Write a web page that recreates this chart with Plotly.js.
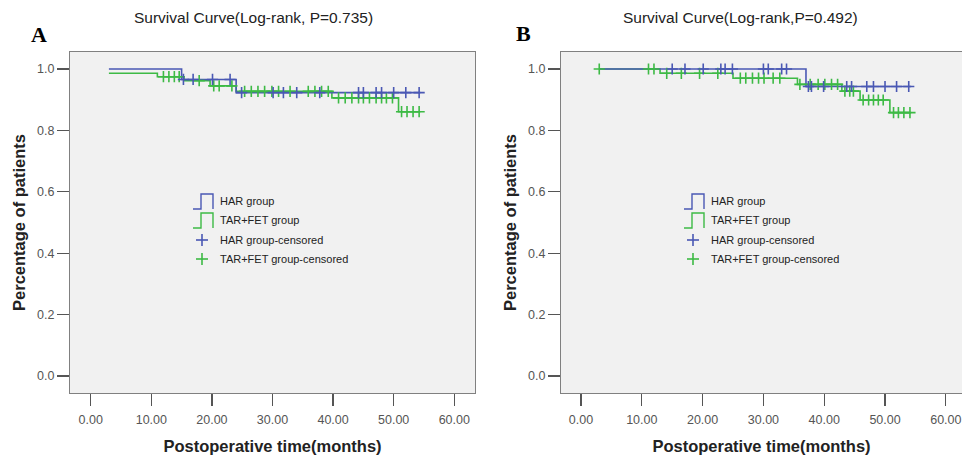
<!DOCTYPE html>
<html>
<head>
<meta charset="utf-8">
<script src="https://cdn.plot.ly/plotly-3.0.1.min.js"></script>
<style>html,body{margin:0;padding:0;background:#fff;}#chart{width:962px;height:455px;}</style>
</head>
<body>
<div id="chart"></div>
<script>
// ---- Data ----
// Panel A: step curves (time in months, survival proportion)
const A_HAR_t = [3, 15, 24, 54.4];
const A_HAR_s = [1.0, 0.966, 0.923, 0.923];
const A_TAR_t = [3, 11, 15.4, 19.7, 24, 39.8, 50.8, 54.4];
const A_TAR_s = [0.986, 0.975, 0.962, 0.945, 0.927, 0.906, 0.861, 0.861];
const A_HAR_cens = [15.3, 16.9, 20.1, 23.0, 24.9, 30.1, 31.8, 34.0, 37.8, 44.2, 45.0, 47.1, 48.0, 50.0, 52.0, 54.2];
const A_TAR_cens = [12.0, 12.9, 13.8, 14.6, 17.9, 20.3, 21.2, 23.3, 25.4, 26.5, 27.6, 28.7, 29.9, 31.0, 32.9, 35.9, 37.0, 38.1, 39.2,
                    40.9, 42.0, 43.1, 44.2, 45.0, 46.0, 47.1, 48.0, 48.8, 49.8, 51.3, 52.2, 53.2, 54.2];

// Panel B
const B_HAR_t = [3, 37, 54.3];
const B_HAR_s = [1.0, 0.943, 0.943];
const B_TAR_t = [3, 13, 25, 35.6, 42.9, 45.9, 50.8, 54.3];
const B_TAR_s = [1.0, 0.986, 0.97, 0.95, 0.928, 0.899, 0.858, 0.858];
const B_HAR_cens = [15.0, 17.1, 20.1, 23.0, 23.7, 24.9, 30.0, 30.8, 33.0, 33.8, 37.4, 37.9, 39.9, 43.7, 44.5, 47.0, 48.1, 50.0, 51.9, 53.9];
const B_TAR_cens = [3.0, 11.1, 12.0, 14.1, 16.5, 19.5, 22.5, 26.2, 27.1, 28.2, 29.2, 30.1, 31.6, 32.7, 36.0, 37.7, 39.0, 40.1, 41.2, 42.2,
                    43.4, 44.2, 44.8, 46.4, 47.3, 48.1, 48.9, 49.7, 51.4, 52.2, 53.1, 54.1];

const titlesTop = ["Survival Curve(Log-rank, P=0.735)", "Survival Curve(Log-rank,P=0.492)"];
const panelLetters = ["A", "B"];
const legendLabels = ["HAR group", "TAR+FET group", "HAR group-censored", "TAR+FET group-censored"];
const xTitle = "Postoperative time(months)";
const yTitle = "Percentage of patients";
const xTicks = [0, 10, 20, 30, 40, 50, 60];
const yTicks = [0, 0.2, 0.4, 0.6, 0.8, 1.0];

// ---- Styling ----
const BLUE = "#4a58b4";
const GREEN = "#3dba45";
const W = 962, H = 455;
const SANS = "Liberation Sans, Arial, sans-serif";

// look up step value at time t
function stepAt(ts, ss, t) {
  let v = ss[0];
  for (let i = 0; i < ts.length; i++) { if (t >= ts[i]) v = ss[i]; }
  return v;
}

function lineTrace(t, s, color, xa, ya) {
  return {x: t, y: s, type: "scatter", mode: "lines", line: {shape: "hv", color: color, width: 1.6},
          xaxis: xa, yaxis: ya, showlegend: false, hoverinfo: "skip"};
}
function censTrace(c, ts, ss, color, xa, ya) {
  return {x: c, y: c.map(t => stepAt(ts, ss, t)), type: "scatter", mode: "markers",
          marker: {symbol: "cross-thin", size: 8, line: {color: color, width: 1.6}, color: color},
          xaxis: xa, yaxis: ya, showlegend: false, hoverinfo: "skip"};
}

const data = [
  lineTrace(A_TAR_t, A_TAR_s, GREEN, "x", "y"),
  lineTrace(A_HAR_t, A_HAR_s, BLUE, "x", "y"),
  censTrace(A_TAR_cens, A_TAR_t, A_TAR_s, GREEN, "x", "y"),
  censTrace(A_HAR_cens, A_HAR_t, A_HAR_s, BLUE, "x", "y"),
  lineTrace(B_TAR_t, B_TAR_s, GREEN, "x2", "y2"),
  lineTrace(B_HAR_t, B_HAR_s, BLUE, "x2", "y2"),
  censTrace(B_TAR_cens, B_TAR_t, B_TAR_s, GREEN, "x2", "y2"),
  censTrace(B_HAR_cens, B_HAR_t, B_HAR_s, BLUE, "x2", "y2")
];

const tickFont = {family: SANS, size: 12.5, color: "#555"};
const axTitleFont = {family: SANS, size: 16.5, color: "#222", weight: "bold"};

function xAxis(domain, range, anchor, mirror) {
  return {domain: domain, range: range, anchor: anchor, tickmode: "array", tickvals: xTicks,
          ticktext: xTicks.map(v => v.toFixed(2)), ticks: "outside", ticklen: 12, tickwidth: 1.2, tickcolor: "#555",
          ticklabelstandoff: 3,
          showline: true, linecolor: "#808080", linewidth: 1, mirror: mirror, showgrid: false, zeroline: false,
          tickfont: tickFont, title: {text: xTitle, font: axTitleFont, standoff: 14}};
}
function yAxis(domain, anchor, mirror) {
  return {domain: domain, range: [-0.0554, 1.0554], anchor: anchor, tickmode: "array", tickvals: yTicks,
          ticktext: yTicks.map(v => v.toFixed(1)), ticks: "outside", ticklen: 12, tickwidth: 1.2, tickcolor: "#555",
          showline: true, linecolor: "#808080", linewidth: 1, mirror: mirror, showgrid: false, zeroline: false,
          tickfont: tickFont, title: {text: yTitle, font: axTitleFont, standoff: 7}};
}

const yDom = [(H - 393) / H, (H - 52) / H];

const annotations = [
  {text: titlesTop[0], x: 253 / W, y: 1 - 18 / H, xref: "paper", yref: "paper", showarrow: false,
   font: {family: SANS, size: 15.5, color: "#222"}, xanchor: "center", yanchor: "middle"},
  {text: titlesTop[1], x: 740 / W, y: 1 - 18 / H, xref: "paper", yref: "paper", showarrow: false,
   font: {family: SANS, size: 15.5, color: "#222"}, xanchor: "center", yanchor: "middle"},
  {text: "<b>" + panelLetters[0] + "</b>", x: 39 / W, y: 1 - 35 / H, xref: "paper", yref: "paper", showarrow: false,
   font: {family: "Liberation Serif, Times New Roman, serif", size: 22, color: "#000"}, xanchor: "center", yanchor: "middle"},
  {text: "<b>" + panelLetters[1] + "</b>", x: 523 / W, y: 1 - 34 / H, xref: "paper", yref: "paper", showarrow: false,
   font: {family: "Liberation Serif, Times New Roman, serif", size: 22, color: "#000"}, xanchor: "center", yanchor: "middle"}
];

const shapes = [];
const legY = [201, 220, 240, 259];
[70, 561].forEach(boxLeft => {
  const ix = boxLeft + 123; // icon left
  const tx = boxLeft + 148; // text left
  legendLabels.forEach((lab, i) => {
    annotations.push({text: lab, x: tx / W, y: 1 - legY[i] / H, xref: "paper", yref: "paper", showarrow: false,
      xanchor: "left", yanchor: "middle", font: {family: SANS, size: 11, color: "#222"}});
  });
  // step icons
  [[0, BLUE], [1, GREEN]].forEach(([i, col]) => {
    const yb = legY[i] + 8, yt = legY[i] - 7;
    const p = (x, y) => (x / W).toFixed(5) + "," + (1 - y / H).toFixed(5);
    shapes.push({type: "path", xref: "paper", yref: "paper",
      path: "M" + p(ix, yb) + " L" + p(ix + 8, yb) + " L" + p(ix + 8, yt) + " L" + p(ix + 20, yt) + " L" + p(ix + 20, yb),
      line: {color: col, width: 1.4}});
  });
  // cross icons
  [[2, BLUE], [3, GREEN]].forEach(([i, col]) => {
    const cx = ix + 9, cy = legY[i];
    shapes.push({type: "line", xref: "paper", yref: "paper", x0: (cx - 6) / W, x1: (cx + 6) / W, y0: 1 - cy / H, y1: 1 - cy / H, line: {color: col, width: 1.6}});
    shapes.push({type: "line", xref: "paper", yref: "paper", x0: cx / W, x1: cx / W, y0: 1 - (cy - 6) / H, y1: 1 - (cy + 6) / H, line: {color: col, width: 1.6}});
  });
});

const layout = {
  width: W, height: H, margin: {l: 0, r: 0, t: 0, b: 0}, paper_bgcolor: "#fff", plot_bgcolor: "#f1f1f1",
  showlegend: false,
  xaxis: xAxis([70 / W, 475 / W], [-3.42, 63.42], "y", true),
  yaxis: yAxis(yDom, "x", true),
  xaxis2: xAxis([561 / W, 1], [-3.29, 62.66], "y2", true),
  yaxis2: yAxis(yDom, "x2", false),
  annotations: annotations, shapes: shapes
};

Plotly.newPlot("chart", data, layout, {displayModeBar: false, staticPlot: true});
</script>
</body>
</html>
